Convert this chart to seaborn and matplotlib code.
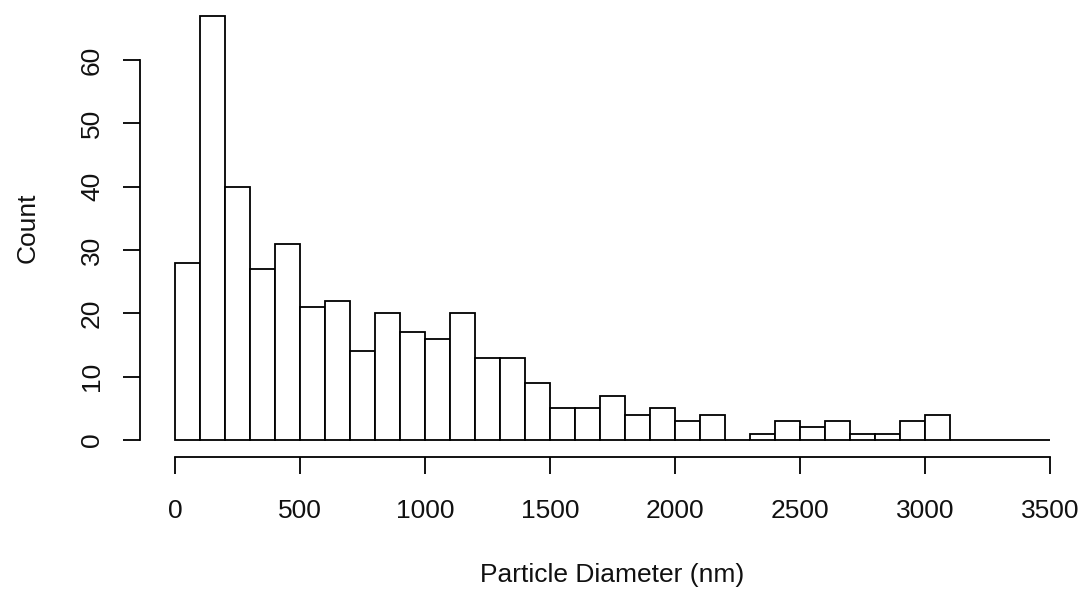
import numpy as np
import pandas as pd
import matplotlib
matplotlib.use("Agg")
import matplotlib.pyplot as plt
import seaborn as sns

# Histogram data (bin width 100 nm, 0..3500)
bin_edges = list(range(0, 3600, 100))
counts = [28, 67, 40, 27, 31, 21, 22, 14, 20, 17, 16, 20, 13, 13, 9, 5, 5, 7, 4, 5,
          3, 4, 0, 1, 3, 2, 3, 1, 1, 3, 4, 0, 0, 0, 0]
x_ticks = [0, 500, 1000, 1500, 2000, 2500, 3000, 3500]
y_ticks = [0, 10, 20, 30, 40, 50, 60]
x_label = "Particle Diameter (nm)"
y_label = "Count"

sns.set_theme(style="white")
plt.rcParams["font.family"] = ["Liberation Sans", "DejaVu Sans"]

centers = [(a + b) / 2 for a, b in zip(bin_edges[:-1], bin_edges[1:])]
df = pd.DataFrame({"diameter": centers, "count": counts})

W, H = 1089, 593
fig = plt.figure(figsize=(W / 100, H / 100), dpi=100)
ax = fig.add_axes([140 / W, (H - 457) / H, 945 / W, 458.3 / H])

sns.histplot(data=df, x="diameter", weights="count", bins=bin_edges,
             color="white", edgecolor="black", linewidth=1.3, alpha=1,
             ax=ax)

ax.set_xlim(-140, 3640)
ax.set_ylim(-2.68, 69.68)

for s in ["top", "right"]:
    ax.spines[s].set_visible(False)
for s in ["left", "bottom"]:
    ax.spines[s].set_linewidth(1.3)
    ax.spines[s].set_color("black")
ax.spines["bottom"].set_bounds(0, 3500)
ax.spines["left"].set_bounds(0, 60)

FS = 19
ax.set_xticks(x_ticks)
ax.set_yticks(y_ticks)
ax.set_xticklabels([str(t) for t in x_ticks])
ax.set_yticklabels([str(t) for t in y_ticks], rotation=90, va="center")
ax.tick_params(axis="both", which="major", direction="out", length=12,
               width=1.3, color="black", labelsize=FS, labelcolor="#111111",
               bottom=True, left=True)
ax.tick_params(axis="x", pad=18)
ax.tick_params(axis="y", pad=14)

ax.set_xlabel(x_label, fontsize=FS, labelpad=29, color="#111111")
ax.set_ylabel(y_label, fontsize=FS, labelpad=29, color="#111111")
ax.grid(False)

fig.savefig("out.png", dpi=100)
